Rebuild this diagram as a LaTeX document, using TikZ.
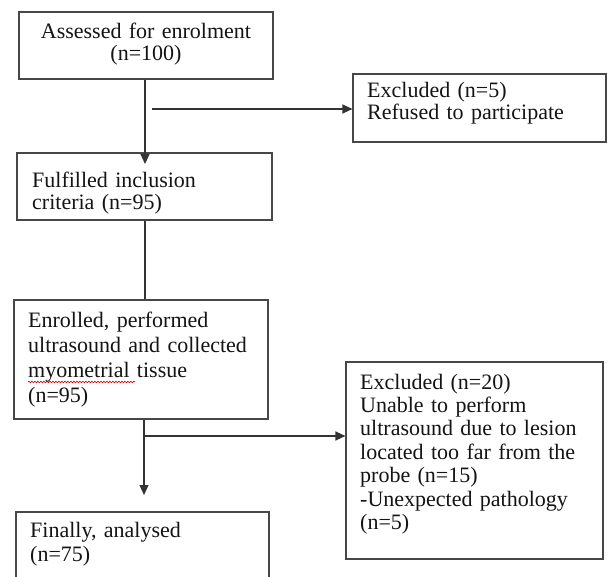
\documentclass[tikz,border=0pt]{standalone}
\usepackage{fontspec}
\setmainfont{Liberation Serif}
\usetikzlibrary{arrows.meta,decorations.pathmorphing}
\begin{document}
\begin{tikzpicture}[x=1pt,y=-1pt,
  box/.style={draw=black!72,line width=1.1pt,inner sep=0pt},
  conn/.style={draw=black!80,line width=1.1pt},
  arr/.style={conn,-{Triangle[length=10pt,width=9pt]}},
  txt/.style={inner sep=0pt,anchor=base west,align=left,text width=240pt,text=black!92,
    font=\fontsize{22}{#1}\selectfont},
  txt/.default=22pt
]
\useasboundingbox (0,0) rectangle (607,577);
\clip (0,0) rectangle (607,577);
\fill[white] (0,0) rectangle (607,577);

% boxes
\node[box,minimum width=254pt,minimum height=67pt] (b1) at (146,45.5) {};
\node[box,minimum width=255pt,minimum height=67pt] (b2) at (144.5,186.5) {};
\node[box,minimum width=254pt,minimum height=119pt] (b3) at (141,359.5) {};
\node[box,minimum width=253pt,minimum height=88pt] (b5) at (142.5,556) {};
\node[box,minimum width=253pt,minimum height=68pt] (e1) at (479.5,108) {};
\node[box,minimum width=257pt,minimum height=197pt] (e2) at (474.5,460.5) {};

% texts
\node[txt,anchor=base,align=center,text width=250pt] (t1) at (146,38.5)
  {Assessed for enrolment\\(n=100)};
\node[txt] (t2) at (32,188) {Fulfilled inclusion\\criteria (n=95)};
\node[txt=25pt] (t3) at (28,327)
  {Enrolled, performed\\ultrasound and collected\\myometrial tissue\\(n=95)};
\node[txt=24pt] (t5) at (30,537) {Finally, analysed\\(n=75)};
\node[txt] (te1) at (367,98) {Excluded (n=5)\\Refused to participate};
\node[txt=23.4pt] (te2) at (360,389)
  {Excluded (n=20)\\Unable to perform\\ultrasound due to lesion\\located too far from the\\probe (n=15)\\-Unexpected pathology\\(n=5)};

% spell-check underline
\coordinate (s1) at (28,382);
\coordinate (s2) at (135,382);
\draw[red!80!black,line width=0.6pt,decorate,
  decoration={snake,amplitude=0.8pt,segment length=3pt}] (s1) -- (s2);

% connectors
\coordinate (a1) at (145,164);
\coordinate (h1) at (152,109);
\coordinate (a2) at (144,495);
\coordinate (h2) at (144,436);
\draw[arr] (a1 |- b1.south) -- (a1);
\draw[arr] (h1) -- (h1 -| e1.west);
\draw[conn] (a1 |- b2.south) -- (a1 |- b3.north);
\draw[arr] (a2 |- b3.south) -- (a2);
\draw[arr] (h2) -- (h2 -| e2.west);
\end{tikzpicture}
\end{document}
